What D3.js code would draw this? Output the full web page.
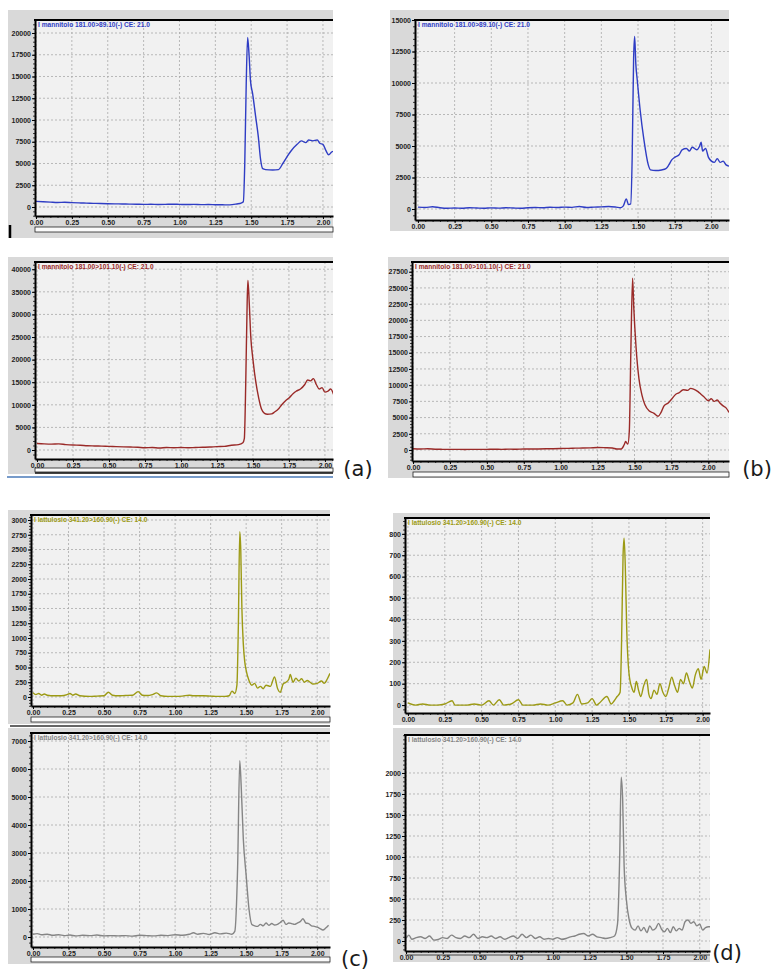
<!DOCTYPE html>
<html><head><meta charset="utf-8">
<script src="https://cdn.jsdelivr.net/npm/d3@7"></script>
<style>body{margin:0;background:#fff}svg{display:block}</style>
</head><body>
<svg id="c" width="775" height="972"></svg>
<script>
// ---------------- DATA ----------------
const xTickValues = [0, 0.25, 0.5, 0.75, 1.0, 1.25, 1.5, 1.75, 2.0];

const titleMan89 = "I mannitolo 181.00>89.10(-) CE: 21.0";
const titleMan101 = "I mannitolo 181.00>101.10(-) CE: 21.0";
const titleLat = "I lattulosio 341.20>160.90(-) CE: 14.0";

const yTicksA1 = [0, 2500, 5000, 7500, 10000, 12500, 15000, 17500, 20000];
const yTicksB1 = [0, 2500, 5000, 7500, 10000, 12500, 15000];
const yTicksA2 = [0, 5000, 10000, 15000, 20000, 25000, 30000, 35000, 40000];
const yTicksB2 = [0, 2500, 5000, 7500, 10000, 12500, 15000, 17500, 20000, 22500, 25000, 27500];
const yTicksC1 = [0, 250, 500, 750, 1000, 1250, 1500, 1750, 2000, 2250, 2500, 2750, 3000];
const yTicksD1 = [0, 100, 200, 300, 400, 500, 600, 700, 800];
const yTicksC2 = [0, 1000, 2000, 3000, 4000, 5000, 6000, 7000];
const yTicksD2 = [0, 250, 500, 750, 1000, 1250, 1500, 1750, 2000];

// [time (min), intensity]
const seriesA1 = [[0,650],[0.05,600],[0.1,560],[0.15,520],[0.2,540],[0.25,500],[0.3,470],[0.35,450],[0.4,420],[0.45,400],[0.5,380],[0.55,360],[0.6,350],[0.65,330],[0.7,320],[0.75,300],[0.8,310],[0.85,290],[0.9,300],[0.95,320],[1.0,300],[1.05,280],[1.1,300],[1.15,270],[1.2,280],[1.25,260],[1.3,250],[1.35,240],[1.4,350],[1.43,450],[1.445,600],[1.455,5000],[1.465,14000],[1.475,19500],[1.485,17500],[1.495,14500],[1.51,13000],[1.53,10500],[1.55,8000],[1.565,5500],[1.58,4400],[1.6,4300],[1.65,4250],[1.69,4300],[1.72,5000],[1.75,5800],[1.78,6500],[1.82,7200],[1.85,7600],[1.88,7400],[1.9,7700],[1.93,7600],[1.96,7700],[1.98,7300],[2.0,7200],[2.02,6500],[2.04,6000],[2.06,6300],[2.07,6400]];

const seriesB1 = [[0,150],[0.05,120],[0.1,180],[0.15,100],[0.2,60],[0.25,80],[0.3,60],[0.35,100],[0.4,80],[0.45,60],[0.5,90],[0.55,70],[0.6,100],[0.65,80],[0.7,60],[0.75,100],[0.8,120],[0.85,100],[0.9,140],[0.95,120],[1.0,150],[1.05,130],[1.1,200],[1.15,120],[1.2,150],[1.25,170],[1.3,200],[1.35,150],[1.38,100],[1.4,250],[1.42,800],[1.435,350],[1.45,400],[1.46,4000],[1.47,12000],[1.477,13700],[1.485,11500],[1.495,10200],[1.515,7800],[1.54,5500],[1.57,3500],[1.585,3100],[1.62,3050],[1.66,3100],[1.69,3200],[1.71,3500],[1.73,3900],[1.75,4100],[1.78,4300],[1.8,4700],[1.83,4800],[1.85,4600],[1.87,4900],[1.9,4700],[1.92,5000],[1.93,5300],[1.94,4600],[1.96,4800],[1.98,4100],[2.0,3800],[2.02,3700],[2.04,4000],[2.06,3700],[2.08,3800],[2.1,3500],[2.12,3400]];

const seriesA2 = [[0,1450],[0.05,1350],[0.1,1300],[0.15,1350],[0.2,1200],[0.25,1100],[0.3,1050],[0.35,950],[0.4,900],[0.45,850],[0.5,800],[0.55,750],[0.6,700],[0.65,650],[0.7,600],[0.75,500],[0.8,550],[0.85,450],[0.9,550],[0.95,500],[1.0,550],[1.05,500],[1.1,550],[1.15,600],[1.2,650],[1.25,750],[1.3,800],[1.35,1050],[1.4,1200],[1.43,1600],[1.44,2500],[1.45,15000],[1.46,33000],[1.465,37500],[1.475,32000],[1.485,25000],[1.5,20000],[1.52,15000],[1.54,11500],[1.56,9000],[1.58,8100],[1.6,7900],[1.63,8000],[1.65,8400],[1.68,9200],[1.7,10000],[1.73,11000],[1.75,11500],[1.78,12500],[1.8,13000],[1.83,13500],[1.86,14500],[1.88,15500],[1.9,15300],[1.92,15800],[1.94,14500],[1.96,13500],[1.98,13800],[2.0,12800],[2.02,13000],[2.04,13500],[2.06,12300]];

const seriesB2 = [[0,200],[0.05,150],[0.1,180],[0.15,120],[0.2,100],[0.25,90],[0.3,100],[0.35,80],[0.4,100],[0.45,90],[0.5,100],[0.55,110],[0.6,100],[0.65,130],[0.7,120],[0.75,150],[0.8,140],[0.85,160],[0.9,180],[0.95,200],[1.0,220],[1.05,250],[1.1,280],[1.15,300],[1.2,330],[1.25,380],[1.3,350],[1.35,300],[1.38,150],[1.41,150],[1.43,800],[1.44,1300],[1.455,900],[1.465,3000],[1.475,15000],[1.487,26500],[1.495,22000],[1.51,16000],[1.53,11000],[1.55,8500],[1.57,7000],[1.6,6000],[1.63,5700],[1.66,5200],[1.68,5800],[1.7,6800],[1.73,7300],[1.75,7800],[1.78,8600],[1.8,8800],[1.83,9300],[1.86,9200],[1.88,9500],[1.9,9400],[1.93,9000],[1.95,8600],[1.97,8200],[2.0,7600],[2.02,7900],[2.04,7500],[2.06,7700],[2.08,7200],[2.1,6800],[2.12,6500],[2.14,5800]];

const seriesC1 = [[0,70],[0.02,40],[0.04,60],[0.06,30],[0.08,50],[0.1,30],[0.15,20],[0.2,20],[0.24,40],[0.26,60],[0.28,30],[0.3,50],[0.33,20],[0.4,10],[0.45,15],[0.5,20],[0.53,80],[0.56,30],[0.6,20],[0.65,25],[0.7,30],[0.74,90],[0.77,30],[0.8,25],[0.84,40],[0.87,70],[0.9,20],[0.95,10],[1.0,10],[1.05,15],[1.1,30],[1.13,20],[1.2,20],[1.25,15],[1.3,10],[1.35,10],[1.38,20],[1.4,100],[1.42,60],[1.435,200],[1.445,1200],[1.455,2800],[1.462,2500],[1.47,1500],[1.48,900],[1.49,600],[1.5,450],[1.52,280],[1.54,200],[1.56,230],[1.58,150],[1.6,180],[1.62,140],[1.64,200],[1.67,180],[1.7,340],[1.72,150],[1.74,80],[1.76,220],[1.78,250],[1.8,300],[1.81,380],[1.83,250],[1.85,320],[1.87,270],[1.89,310],[1.91,250],[1.93,280],[1.95,250],[1.97,220],[2.0,230],[2.03,270],[2.05,230],[2.07,300],[2.09,400]];

const seriesD1 = [[0,10],[0.05,0],[0.1,5],[0.15,0],[0.2,0],[0.25,5],[0.3,20],[0.32,0],[0.4,0],[0.45,5],[0.5,0],[0.55,20],[0.58,0],[0.62,25],[0.65,0],[0.7,5],[0.75,25],[0.78,0],[0.85,0],[0.9,5],[0.95,0],[1.0,10],[1.05,20],[1.08,0],[1.12,10],[1.15,50],[1.18,5],[1.22,10],[1.25,30],[1.28,0],[1.3,10],[1.35,40],[1.38,5],[1.4,20],[1.42,40],[1.44,60],[1.45,300],[1.46,700],[1.467,780],[1.475,650],[1.485,350],[1.5,150],[1.52,80],[1.535,60],[1.55,110],[1.565,70],[1.58,40],[1.6,90],[1.62,120],[1.635,50],[1.65,30],[1.67,70],[1.69,50],[1.71,100],[1.73,60],[1.75,40],[1.77,80],[1.79,130],[1.81,90],[1.83,60],[1.85,120],[1.87,100],[1.89,150],[1.91,110],[1.93,80],[1.95,140],[1.97,170],[1.99,120],[2.01,180],[2.03,150],[2.05,260]];

const seriesC2 = [[0,100],[0.03,120],[0.06,80],[0.1,100],[0.14,60],[0.18,80],[0.22,50],[0.26,70],[0.3,40],[0.35,60],[0.4,50],[0.45,70],[0.5,40],[0.55,50],[0.6,40],[0.65,50],[0.7,30],[0.75,60],[0.8,50],[0.85,40],[0.9,60],[0.95,50],[1.0,80],[1.05,60],[1.1,100],[1.13,150],[1.16,100],[1.2,130],[1.24,90],[1.28,150],[1.32,110],[1.36,140],[1.4,100],[1.42,200],[1.44,2500],[1.455,6300],[1.465,5400],[1.48,3500],[1.5,2200],[1.52,1000],[1.54,450],[1.56,400],[1.58,380],[1.6,450],[1.62,400],[1.64,500],[1.66,420],[1.68,480],[1.7,430],[1.72,450],[1.74,520],[1.76,600],[1.78,450],[1.8,500],[1.82,480],[1.84,450],[1.86,500],[1.88,550],[1.9,650],[1.92,500],[1.94,480],[1.96,400],[1.98,380],[2.0,350],[2.02,300],[2.04,250],[2.06,320],[2.08,420]];

const seriesD2 = [[0,30],[0.02,70],[0.04,20],[0.07,40],[0.1,50],[0.13,30],[0.16,60],[0.19,10],[0.22,20],[0.25,40],[0.28,30],[0.31,70],[0.34,40],[0.37,30],[0.4,60],[0.43,40],[0.46,80],[0.49,30],[0.52,50],[0.55,40],[0.58,60],[0.61,30],[0.64,50],[0.67,20],[0.7,40],[0.73,60],[0.76,30],[0.79,80],[0.82,40],[0.85,70],[0.88,30],[0.91,50],[0.94,20],[0.97,30],[1.0,20],[1.03,40],[1.06,20],[1.09,30],[1.12,50],[1.15,60],[1.18,80],[1.21,90],[1.24,60],[1.27,80],[1.3,50],[1.33,40],[1.36,30],[1.39,40],[1.42,60],[1.44,200],[1.455,1000],[1.465,1950],[1.475,1700],[1.485,900],[1.5,500],[1.52,250],[1.54,150],[1.56,130],[1.58,180],[1.6,120],[1.62,160],[1.64,100],[1.66,180],[1.68,130],[1.7,150],[1.72,210],[1.74,140],[1.76,110],[1.78,150],[1.8,100],[1.82,170],[1.84,120],[1.86,150],[1.88,130],[1.9,230],[1.92,250],[1.94,210],[1.96,230],[1.98,180],[2.0,200],[2.02,130],[2.04,160],[2.06,170],[2.07,170]];

// ---------------- LAYOUT ----------------
const BLUE = "#2f3dc4", RED = "#9a2a28", OLIVE = "#9c9a14", GREY = "#858585";

const panels = [
  {data: seriesA1, yTicks: yTicksA1, color: BLUE, title: titleMan89, bg:[8,10,333,238], l:35,t:20,r:333,b:216, xDom:[-0.007,2.07], yDom:[-1035,21494], minor:500},
  {data: seriesB1, yTicks: yTicksB1, color: BLUE, title: titleMan89, bg:[390,10,729,231], l:415,t:20,r:729,b:220, xDom:[-0.02,2.12], yDom:[-873,15000], minor:500},
  {data: seriesA2, yTicks: yTicksA2, color: RED, title: titleMan101, bg:[8,257,333,474], l:35,t:262,r:333,b:459, xDom:[-0.014,2.056], yDom:[-1990,41600], minor:1000},
  {data: seriesB2, yTicks: yTicksB2, color: RED, title: titleMan101, bg:[388,257,729,478], l:412,t:262,r:729,b:461, xDom:[-0.007,2.14], yDom:[-1700,29000], minor:500},
  {data: seriesC1, yTicks: yTicksC1, color: OLIVE, title: titleLat, bg:[8,510,330,724], l:31,t:515,r:330,b:706, xDom:[-0.014,2.09], yDom:[-153,3085], minor:50},
  {data: seriesD1, yTicks: yTicksD1, color: OLIVE, title: titleLat, bg:[393,513,710,725], l:405,t:518,r:710,b:713, xDom:[-0.02,2.05], yDom:[-37,874], minor:20},
  {data: seriesC2, yTicks: yTicksC2, color: GREY, title: titleLat, bg:[8,728,330,964], l:31,t:733,r:330,b:947, xDom:[-0.014,2.09], yDom:[-357,7286], minor:200},
  {data: seriesD2, yTicks: yTicksD2, color: GREY, title: titleLat, bg:[393,728,710,962], l:405,t:735,r:710,b:951, xDom:[-0.007,2.07], yDom:[-119,2452], minor:50}
];

const svg = d3.select("#c");
const FONT = "'Liberation Sans', Arial, sans-serif";

panels.forEach((p, i) => {
  const g = svg.append("g");
  g.append("rect").attr("x", p.bg[0]).attr("y", p.bg[1])
    .attr("width", p.bg[2] - p.bg[0]).attr("height", p.bg[3] - p.bg[1]).attr("fill", "#d9d9d9");
  g.append("rect").attr("x", p.l).attr("y", p.t).attr("width", p.r - p.l).attr("height", p.b - p.t).attr("fill", "#f1f1f1");

  const x = d3.scaleLinear().domain(p.xDom).range([p.l, p.r]);
  const y = d3.scaleLinear().domain(p.yDom).range([p.b, p.t]);

  // grid
  g.append("g").selectAll("line").data(xTickValues).join("line")
    .attr("x1", d => x(d)).attr("x2", d => x(d)).attr("y1", p.t).attr("y2", p.b)
    .attr("stroke", "#a9a9a9").attr("stroke-width", 0.8).attr("stroke-dasharray", "2,2");
  g.append("g").selectAll("line").data(p.yTicks).join("line")
    .attr("x1", p.l).attr("x2", p.r).attr("y1", d => y(d)).attr("y2", d => y(d))
    .attr("stroke", "#a9a9a9").attr("stroke-width", 0.8).attr("stroke-dasharray", "2,2");

  // clip + line
  const cid = "clip" + i;
  svg.append("clipPath").attr("id", cid).append("rect")
    .attr("x", p.l).attr("y", p.t).attr("width", p.r - p.l).attr("height", p.b - p.t);
  g.append("path").datum(p.data).attr("clip-path", `url(#${cid})`)
    .attr("d", d3.line().x(d => x(d[0])).y(d => y(d[1])).curve(d3.curveMonotoneX))
    .attr("fill", "none").attr("stroke", p.color).attr("stroke-width", 1.4).attr("stroke-linejoin", "round");

  // minor ticks
  const yMin = d3.range(Math.ceil(p.yDom[0] / p.minor) * p.minor, p.yDom[1], p.minor);
  g.append("g").attr("transform", `translate(${p.l},0)`)
    .call(d3.axisLeft(y).tickValues(yMin).tickSize(2).tickFormat(""))
    .call(s => s.select(".domain").remove())
    .call(s => s.selectAll("line").attr("stroke", "#111").attr("stroke-width", 0.8));
  const xMin = d3.range(0, p.xDom[1], 0.05);
  g.append("g").attr("transform", `translate(0,${p.b})`)
    .call(d3.axisBottom(x).tickValues(xMin).tickSize(2).tickFormat(""))
    .call(s => s.select(".domain").remove())
    .call(s => s.selectAll("line").attr("stroke", "#111").attr("stroke-width", 0.8));

  // major axes
  const ya = g.append("g").attr("transform", `translate(${p.l},0)`)
    .call(d3.axisLeft(y).tickValues(p.yTicks).tickSize(3).tickPadding(1).tickFormat(d3.format("d")).tickSizeOuter(0));
  const xa = g.append("g").attr("transform", `translate(0,${p.b})`)
    .call(d3.axisBottom(x).tickValues(xTickValues).tickSize(3).tickPadding(1).tickFormat(d3.format(".2f")).tickSizeOuter(0));
  [ya, xa].forEach(a => {
    a.select(".domain").attr("stroke", "#000").attr("stroke-width", 2);
    a.selectAll(".tick line").attr("stroke", "#000").attr("stroke-width", 1);
    a.selectAll("text").attr("font-family", FONT).attr("font-size", 7).attr("font-weight", "bold").attr("fill", "#222");
  });

  // top border
  g.append("line").attr("x1", p.l - 1).attr("x2", p.r).attr("y1", p.t).attr("y2", p.t)
    .attr("stroke", "#000").attr("stroke-width", 2);

  // title
  g.append("text").attr("x", p.l + 3).attr("y", p.t + 7).text(p.title)
    .attr("font-family", FONT).attr("font-size", 6.6).attr("font-weight", "bold").attr("fill", p.color);
});

// scrollbars and separator lines
const bars = [
  {x0:35, x1:333, y:227, h:5},
  {x0:35, x1:333, y:468, h:4},
  {x0:413, x1:729, y:472, h:5},
  {x0:31, x1:330, y:717, h:5},
  {x0:31, x1:330, y:957, h:5}
];
bars.forEach(b => {
  svg.append("rect").attr("x", b.x0).attr("y", b.y).attr("width", b.x1 - b.x0).attr("height", b.h)
    .attr("fill", "#fafafa").attr("stroke", "#222").attr("stroke-width", 0.8);
});
svg.append("line").attr("x1", 35).attr("x2", 333).attr("y1", 473).attr("y2", 473).attr("stroke", "#111").attr("stroke-width", 1.5);
svg.append("line").attr("x1", 7).attr("x2", 333).attr("y1", 477).attr("y2", 477).attr("stroke", "#4a7ab8").attr("stroke-width", 1.5);
svg.append("line").attr("x1", 10).attr("x2", 330).attr("y1", 726).attr("y2", 726).attr("stroke", "#333").attr("stroke-width", 1.5);
svg.append("line").attr("x1", 405).attr("x2", 710).attr("y1", 955).attr("y2", 955).attr("stroke", "#444").attr("stroke-width", 1);
svg.append("line").attr("x1", 10).attr("x2", 10).attr("y1", 225).attr("y2", 238).attr("stroke", "#000").attr("stroke-width", 2.5);

// panel letters
const letters = [
  {t:"(a)", x:358, y:476},
  {t:"(b)", x:757, y:476},
  {t:"(c)", x:355, y:966},
  {t:"(d)", x:727, y:960}
];
letters.forEach(d => {
  svg.append("text").attr("x", d.x).attr("y", d.y).attr("text-anchor", "middle").text(d.t)
    .attr("font-family", "'DejaVu Sans', sans-serif").attr("font-size", 21).attr("fill", "#1a1a1a");
});
</script>
</body></html>
